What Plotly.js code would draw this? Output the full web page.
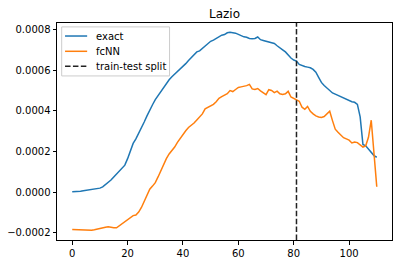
<!DOCTYPE html>
<html>
<head>
<meta charset="utf-8">
<script src="https://cdn.plot.ly/plotly-3.0.1.min.js"></script>
<style>html,body{margin:0;padding:0;background:#fff;}#chart{width:402px;height:264px;}</style>
</head>
<body>
<div id="chart"></div>
<script>
const titleText = "Lazio";
const seriesNames = ["exact", "fcNN", "train-test split"];
const seriesColors = ["#1f77b4", "#ff7f0e", "#222222"];
const splitX = 81;
const exactVals = [
0.000002,0.000002,0.000003,0.000005,0.000007,0.000009,0.000011,0.000014,0.000016,0.000018,
0.000020,0.000026,0.000036,0.000048,0.000060,0.000075,0.000090,0.000103,0.000117,0.000133,
0.000165,0.000205,0.000240,0.000262,0.000288,0.000315,0.000345,0.000375,0.000405,0.000430,
0.000455,0.000475,0.000495,0.000518,0.000538,0.000553,0.000568,0.000580,0.000592,0.000605,
0.000618,0.000632,0.000648,0.000662,0.000678,0.000690,0.000695,0.000708,0.000720,0.000732,
0.000742,0.000748,0.000757,0.000765,0.000772,0.000775,0.000784,0.000786,0.000784,0.000782,
0.000776,0.000768,0.000764,0.000762,0.000756,0.000755,0.000756,0.000763,0.000750,0.000746,
0.000742,0.000738,0.000735,0.000731,0.000720,0.000708,0.000700,0.000690,0.000673,0.000660,
0.000650,0.000645,0.000628,0.000622,0.000618,0.000615,0.000612,0.000604,0.000590,0.000565,
0.000540,0.000525,0.000512,0.000500,0.000488,0.000482,0.000476,0.000470,0.000463,0.000456,
0.000449,0.000445,0.000442,0.000432,0.000370,0.000235,0.000228,0.000212,0.000192,0.000180,
0.000172];
const fcnnVals = [
-0.000183,-0.000184,-0.000184,-0.000185,-0.000184,-0.000185,-0.000186,-0.000187,-0.000185,-0.000181,
-0.000179,-0.000176,-0.000172,-0.000170,-0.000173,-0.000175,-0.000175,-0.000165,-0.000155,-0.000145,
-0.000138,-0.000126,-0.000115,-0.000112,-0.000098,-0.000075,-0.000043,-0.000010,0.000015,0.000030,
0.000047,0.000075,0.000105,0.000137,0.000165,0.000188,0.000205,0.000222,0.000245,0.000266,
0.000282,0.000302,0.000318,0.000328,0.000340,0.000355,0.000368,0.000385,0.000410,0.000418,
0.000422,0.000432,0.000445,0.000462,0.000470,0.000476,0.000484,0.000500,0.000495,0.000505,
0.000515,0.000518,0.000520,0.000524,0.000530,0.000508,0.000505,0.000510,0.000498,0.000488,
0.000480,0.000504,0.000500,0.000490,0.000497,0.000484,0.000480,0.000484,0.000496,0.000468,
0.000460,0.000455,0.000447,0.000418,0.000408,0.000422,0.000398,0.000385,0.000375,0.000370,
0.000368,0.000372,0.000383,0.000398,0.000352,0.000310,0.000295,0.000282,0.000268,0.000262,
0.000256,0.000242,0.000247,0.000244,0.000232,0.000222,0.000228,0.000270,0.000354,0.000190,
0.000027];
const xTicks = [0, 20, 40, 60, 80, 100];
const yTicks = [-0.0002, 0.0000, 0.0002, 0.0004, 0.0006, 0.0008];
const xRange = [-5.5, 115.5];
const yRange = [-0.000235, 0.000832];

const days = exactVals.map((_, i) => i);
const font = {family: "DejaVu Sans, sans-serif", size: 10, color: "#000"};
const dashSpec = "5.5px,2.4px";

const traces = [
  {x: days, y: exactVals, type: "scatter", mode: "lines", name: seriesNames[0],
   line: {color: seriesColors[0], width: 1.5}},
  {x: days, y: fcnnVals, type: "scatter", mode: "lines", name: seriesNames[1],
   line: {color: seriesColors[1], width: 1.5}},
  {x: [splitX, splitX], y: yRange, type: "scatter", mode: "lines", name: seriesNames[2],
   line: {color: seriesColors[2], width: 1.5, dash: dashSpec}}
];

// matplotlib-style compact legend (box, sample lines, labels) in paper coords
const legBox = {x0: 0.014, x1: 0.336, y0: 0.756, y1: 0.982};
const legRows = [0.940, 0.8696, 0.8005];
const legSample = [0.024, 0.090];
const legTextX = 0.110;
const shapes = [
  {type: "rect", xref: "paper", yref: "paper", x0: legBox.x0, x1: legBox.x1, y0: legBox.y0, y1: legBox.y1,
   line: {color: "#cccccc", width: 1}, fillcolor: "rgba(255,255,255,0.8)", layer: "above"}
];
const annotations = [];
seriesNames.forEach((nm, i) => {
  shapes.push({type: "line", xref: "paper", yref: "paper", x0: legSample[0], x1: legSample[1],
    y0: legRows[i], y1: legRows[i], layer: "above",
    line: {color: seriesColors[i], width: 1.5, dash: i === 2 ? dashSpec : "solid"}});
  annotations.push({xref: "paper", yref: "paper", x: legTextX, y: legRows[i], xanchor: "left",
    yanchor: "middle", text: nm, showarrow: false, font: font});
});

const axisCommon = {showline: true, mirror: true, linecolor: "#000", linewidth: 1,
  ticks: "outside", ticklen: 3.5, tickwidth: 1, tickcolor: "#000", showgrid: false,
  zeroline: false, tickfont: font};

const layout = {
  width: 402, height: 264,
  margin: {l: 57, r: 10, t: 23, b: 24, pad: 0},
  paper_bgcolor: "#fff", plot_bgcolor: "#fff",
  font: font,
  title: {text: titleText, font: {family: "DejaVu Sans, sans-serif", size: 12, color: "#000"},
          x: 0.5, xref: "paper", xanchor: "center", y: 1, yref: "paper", yanchor: "bottom", pad: {b: 5}},
  xaxis: Object.assign({}, axisCommon, {range: xRange, tickvals: xTicks, ticktext: xTicks.map(String)}),
  yaxis: Object.assign({}, axisCommon, {range: yRange, tickvals: yTicks,
    ticktext: yTicks.map(v => (v < 0 ? "\u2212" : "") + Math.abs(v).toFixed(4))}),
  showlegend: false,
  shapes: shapes,
  annotations: annotations
};

Plotly.newPlot("chart", traces, layout, {displayModeBar: false, staticPlot: true});
</script>
</body>
</html>
